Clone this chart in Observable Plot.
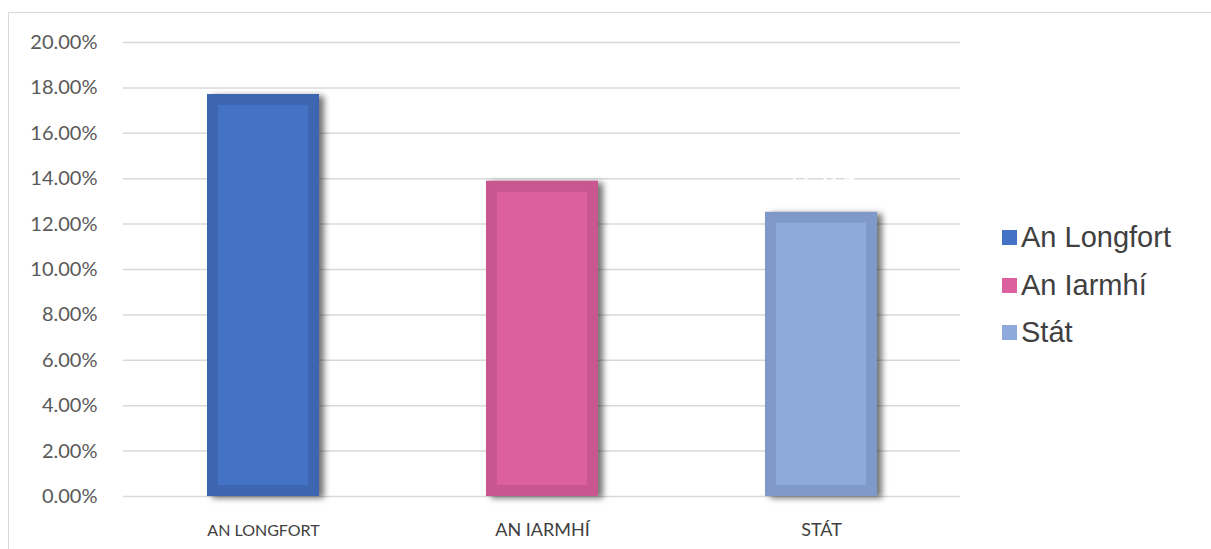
<!DOCTYPE html>
<html>
<head>
<meta charset="utf-8">
<script src="https://cdn.jsdelivr.net/npm/d3@7"></script>
<script src="https://cdn.jsdelivr.net/npm/@observablehq/plot@0.6"></script>
<style>
  html, body { margin: 0; padding: 0; background: #fff; }
  #wrap { position: relative; width: 1211px; height: 549px; overflow: hidden; }
  #frame { position: absolute; left: 8px; top: 12px; width: 1300px; height: 600px;
           border-left: 1.5px solid #d9d9d9; border-top: 1.5px solid #d9d9d9; }
  #chart { position: absolute; left: 0; top: 0; }
  #legend { position: absolute; left: 1002px; top: 214px; font-family: "Liberation Sans", Arial, sans-serif;
            font-size: 29px; color: #404040; }
  .item { display: flex; align-items: center; height: 47.5px; }
  .sw { width: 15px; height: 15px; margin-right: 4px; }
</style>
</head>
<body>
<div id="wrap">
  <div id="frame"></div>
  <div id="chart"></div>
  <div id="legend"></div>
</div>
<script>
const categories = ["AN LONGFORT", "AN IARMHÍ", "STÁT"];
const legendNames = ["An Longfort", "An Iarmhí", "Stát"];
const values = [0.1771, 0.1389, 0.1252];
const yTicks = [0, 0.02, 0.04, 0.06, 0.08, 0.10, 0.12, 0.14, 0.16, 0.18, 0.20];
const innerColors = ["#4472C4", "#DC609D", "#8EAADC"];
const edgeColors = ["#3E66B0", "#C7578E", "#7F99C8"];
const labelSizes = [16, 18, 18];

const data = categories.map((c, i) => ({
  cat: c, value: values[i], inner: innerColors[i], edge: edgeColors[i], fs: labelSizes[i]
}));

const plot = Plot.plot({
  width: 1211,
  height: 549,
  marginLeft: 123,
  marginRight: 251,
  marginTop: 42,
  marginBottom: 53,
  style: { fontFamily: "Lato, 'Open Sans', sans-serif", background: "transparent", overflow: "visible" },
  x: { domain: categories, paddingInner: 0.6, paddingOuter: 0.3, axis: null },
  y: { domain: [0, 0.20], axis: null },
  marks: [
    Plot.ruleY(yTicks, { stroke: "#d9d9d9", strokeWidth: 1.5 }),
    Plot.text(yTicks, {
      y: d => d, frameAnchor: "left", dx: -26, textAnchor: "end",
      text: d => (d * 100).toFixed(2) + "%", fontSize: 20, fill: "#595959"
    }),
    Plot.barY(data, { x: "cat", y: "value", fill: "edge" }),
    Plot.barY(data, { x: "cat", y: "value", fill: "inner", inset: 11 }),
    Plot.text(data.slice(2), {
      x: "cat", y: "value", dy: -34, text: d => (d.value * 100).toFixed(2) + "%",
      fill: "white", fontSize: 20, fontWeight: "bold"
    }),
    Plot.text(data, {
      x: "cat", y: 0, dy: 34, text: "cat", fontSize: "fs", fill: "#404040"
    })
  ]
});
// shadow for the outer bars
const bars = plot.querySelectorAll('g[aria-label="bar"]');
if (bars.length) bars[0].style.filter = "drop-shadow(5px 2px 3px rgba(0,0,0,0.55))";
document.getElementById("chart").appendChild(plot);

const legend = document.getElementById("legend");
legendNames.forEach((n, i) => {
  const it = document.createElement("div");
  it.className = "item";
  it.innerHTML = `<span class="sw" style="background:${innerColors[i]}"></span><span>${n}</span>`;
  legend.appendChild(it);
});
</script>
</body>
</html>
